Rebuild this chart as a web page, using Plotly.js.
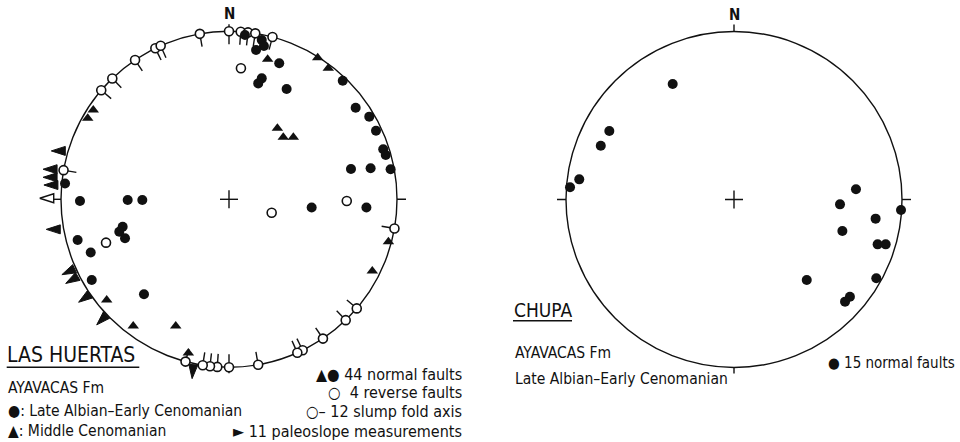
<!DOCTYPE html>
<html><head><meta charset="utf-8">
<script src="https://cdn.plot.ly/plotly-3.0.1.min.js"></script>
<style>html,body{margin:0;padding:0;background:#fff;}#chart{width:960px;height:442px;}</style>
</head><body><div id="chart"></div>
<script>
// ---------- DATA (unit-radius stereonet coordinates: x = east, y = north) ----------
// LAS HUERTAS – normal faults, Late Albian–Early Cenomanian (filled circles)
const lhLateX = [0.095,0.195,0.208,0.161,0.299,0.195,0.174,0.343,0.677,0.754,0.835,0.875,0.918,0.933,0.962,0.843,0.726,0.492,0.818,-0.976,-0.887,-0.603,-0.516,-0.633,-0.653,-0.619,-0.901,-0.823,-0.817,-0.506];
const lhLateY = [0.978,0.948,0.913,0.889,0.810,0.720,0.690,0.657,0.706,0.545,0.492,0.408,0.298,0.264,0.179,0.185,0.180,-0.049,-0.049,0.094,-0.010,-0.004,-0.004,-0.163,-0.193,-0.232,-0.242,-0.317,-0.480,-0.565];
// LAS HUERTAS – normal faults, Middle Cenomanian (triangles)
const lhMidX = [0.230,0.528,0.591,0.288,0.323,0.383,0.949,0.853,-0.728,-0.570,-0.317,-0.242,-0.808,-0.841];
const lhMidY = [0.833,0.843,0.780,0.423,0.369,0.369,-0.252,-0.427,-0.599,-0.754,-0.754,-0.915,0.532,0.482];
// LAS HUERTAS – reverse faults (open circles)
const lhRevX = [0.071,0.254,0.701,-0.732];
const lhRevY = [0.780,-0.080,-0.010,-0.258];
// LAS HUERTAS – slump fold axes (horizontal, trend in degrees; plotted at both ends)
const lhSlumpTrend = [350,334,336,0,4,6.5,9,15,326,316,310.5,280];
// LAS HUERTAS – paleoslope measurements (position and slope direction, degrees)
const lhPaleoX = [-1.016,-1.065,-1.065,-1.060,-1.085,-1.046,-0.957,-0.936,-0.861,-0.758,-0.216];
const lhPaleoY = [0.288,0.179,0.131,0.085,0.006,-0.179,-0.431,-0.480,-0.589,-0.718,-1.026];
const lhPaleoDir = [270,270,270,270,270,270,245,240,235,225,185];
const lhPaleoHollow = [4];
// CHUPA – normal faults
const chX = [-0.365,-0.742,-0.793,-0.921,-0.976,0.726,0.631,0.994,0.843,0.645,0.855,0.903,0.847,0.433,0.690,0.661];
const chY = [0.688,0.408,0.320,0.120,0.073,0.061,-0.029,-0.063,-0.114,-0.188,-0.267,-0.267,-0.469,-0.479,-0.579,-0.608];
// Texts
const northLabel = 'N';
const lhTitle = 'LAS HUERTAS';
const formation = 'AYAVACAS Fm';
const lhAgeLines = ['●: Late Albian–Early Cenomanian', '▲: Middle Cenomanian'];
const lhKeyLines = ['▲● 44 normal faults', '○  4 reverse faults', '○– 12 slump fold axis', '► 11 paleoslope measurements'];
const chTitle = 'CHUPA';
const chAge = 'Late Albian–Early Cenomanian';
const chKey = '● 15 normal faults';

// ---------- LAYOUT GEOMETRY ----------
const W = 960, H = 442, R = 168;
const L = {cx: 229, cy: 199.3, d0: 0, d1: 0.48};
const Rt = {cx: 734, cy: 199.5, d0: 0.53, d1: 1};
function xr(p){ return [(p.d0*W - p.cx)/R, (p.d1*W - p.cx)/R]; }
function yr(p){ return [(p.cy - H)/R, p.cy/R]; }
const px = v => v / R;
const BLACK = '#111';

const traces = [];
// slump fold axes: ticks + open circles
const sx = [], sy = [], tx = [], ty = [];
lhSlumpTrend.forEach(t => {
  [t, t + 180].forEach(a => {
    const r = a * Math.PI / 180, ux = Math.sin(r), uy = Math.cos(r);
    sx.push(ux); sy.push(uy);
    tx.push(ux * (1 - px(4)), ux * (1 - px(13)), null);
    ty.push(uy * (1 - px(4)), uy * (1 - px(13)), null);
  });
});
traces.push({x: tx, y: ty, mode: 'lines', line: {color: BLACK, width: 1.4}, xaxis: 'x', yaxis: 'y', hoverinfo: 'skip'});
traces.push({x: sx, y: sy, mode: 'markers', marker: {symbol: 'circle', size: 9, color: '#fff', line: {color: BLACK, width: 1.6}}, xaxis: 'x', yaxis: 'y'});
// reverse faults
traces.push({x: lhRevX, y: lhRevY, mode: 'markers', marker: {symbol: 'circle', size: 9, color: '#fff', line: {color: BLACK, width: 1.6}}, xaxis: 'x', yaxis: 'y'});
// normal faults
traces.push({x: lhLateX, y: lhLateY, mode: 'markers', marker: {symbol: 'circle', size: 10, color: BLACK, line: {width: 0}}, xaxis: 'x', yaxis: 'y'});
traces.push({x: lhMidX, y: lhMidY, mode: 'markers', marker: {symbol: 'triangle-up', size: 10, color: BLACK, line: {width: 0}}, xaxis: 'x', yaxis: 'y'});
// paleoslope arrowheads
function arrowPath(ids){
  const ax = [], ay = [];
  ids.forEach(i => {
    const r = lhPaleoDir[i] * Math.PI / 180, ux = Math.sin(r), uy = Math.cos(r);
    const vx = uy, vy = -ux, l = px(14) / 2, w = px(9) / 2;
    const cx = lhPaleoX[i], cy = lhPaleoY[i];
    ax.push(cx + ux*l, cx - ux*l + vx*w, cx - ux*l - vx*w, cx + ux*l, null);
    ay.push(cy + uy*l, cy - uy*l + vy*w, cy - uy*l - vy*w, cy + uy*l, null);
  });
  return {ax, ay};
}
const solidIds = lhPaleoX.map((_, i) => i).filter(i => lhPaleoHollow.indexOf(i) < 0);
const sp = arrowPath(solidIds), hp = arrowPath(lhPaleoHollow);
traces.push({x: sp.ax, y: sp.ay, mode: 'lines', fill: 'toself', fillcolor: BLACK, line: {color: BLACK, width: 1}, xaxis: 'x', yaxis: 'y', hoverinfo: 'skip'});
traces.push({x: hp.ax, y: hp.ay, mode: 'lines', fill: 'toself', fillcolor: '#fff', line: {color: BLACK, width: 1.4}, xaxis: 'x', yaxis: 'y', hoverinfo: 'skip'});
// Chupa
traces.push({x: chX, y: chY, mode: 'markers', marker: {symbol: 'circle', size: 10, color: BLACK, line: {width: 0}}, xaxis: 'x2', yaxis: 'y2'});

// ---------- SHAPES ----------
const shapes = [];
[['x','y'],['x2','y2']].forEach(([xa, ya]) => {
  const base = {xref: xa, yref: ya, layer: 'below', line: {color: BLACK, width: 1.4}};
  shapes.push(Object.assign({type: 'circle', x0: -1, y0: -1, x1: 1, y1: 1}, base));
  const seg = (x0, y0, x1, y1) => shapes.push(Object.assign({type: 'line', x0, y0, x1, y1}, base));
  seg(0, 1, 0, 1 + px(7));
  seg(1, 0, 1 + px(9), 0);
  seg(-1, 0, -1 - px(9), 0);
  seg(0, -1, 0, -1 - px(6));
  seg(-px(9), 0, px(9), 0);
  seg(0, -px(9), 0, px(9));
});
function uline(x0, x1, y){ shapes.push({type: 'line', xref: 'paper', yref: 'paper', x0: x0/W, x1: x1/W, y0: 1 - y/H, y1: 1 - y/H, line: {color: BLACK, width: 1.5}}); }
uline(6.7, 139.3, 367.3);
uline(513, 572, 320.7);

// ---------- ANNOTATIONS ----------
const COND = 'DejaVu Sans Condensed, DejaVu Sans, sans-serif';
function ann(text, x, y, xanchor, size){
  return {xref: 'paper', yref: 'paper', x: x/W, y: 1 - y/H, xanchor, yanchor: 'middle', text, showarrow: false,
          font: {family: COND, size, color: BLACK}, borderpad: 0};
}
const nFont = {family: COND, size: 15, color: BLACK, weight: 'bold'};
const annotations = [
  {xref: 'x', yref: 'y', x: 0, y: (L.cy - 13.7)/R, text: northLabel, showarrow: false, xanchor: 'center', yanchor: 'middle', font: nFont},
  {xref: 'x2', yref: 'y2', x: 0, y: (Rt.cy - 14.5)/R, text: northLabel, showarrow: false, xanchor: 'center', yanchor: 'middle', font: nFont},
  ann(lhTitle, 6, 355.3, 'left', 21),
  ann(formation, 7, 388.3, 'left', 15.5),
  ann(lhAgeLines[0], 7, 411, 'left', 15.5),
  ann(lhAgeLines[1], 7, 431, 'left', 15.5),
  ann(lhKeyLines[0], 463, 374, 'right', 16),
  ann(lhKeyLines[1], 463, 392, 'right', 16),
  ann(lhKeyLines[2], 463, 411, 'right', 16),
  ann(lhKeyLines[3], 463, 431, 'right', 16),
  ann(chTitle, 513, 309.5, 'left', 19),
  ann(formation, 514, 353.3, 'left', 15.5),
  ann(chAge, 514, 379, 'left', 15.5),
  ann(chKey, 827, 363, 'left', 15)
];

const ax = (dom, rng, anchor) => ({domain: dom, range: rng, visible: false, fixedrange: true, anchor, showgrid: false, zeroline: false});
const layout = {
  width: W, height: H, margin: {l: 0, r: 0, t: 0, b: 0},
  paper_bgcolor: '#fff', plot_bgcolor: 'rgba(0,0,0,0)', showlegend: false,
  xaxis: ax([L.d0, L.d1], xr(L), 'y'),
  yaxis: ax([0, 1], yr(L), 'x'),
  xaxis2: ax([Rt.d0, Rt.d1], xr(Rt), 'y2'),
  yaxis2: ax([0, 1], yr(Rt), 'x2'),
  shapes, annotations
};
Plotly.newPlot('chart', traces, layout, {staticPlot: true, displayModeBar: false});
</script></body></html>
